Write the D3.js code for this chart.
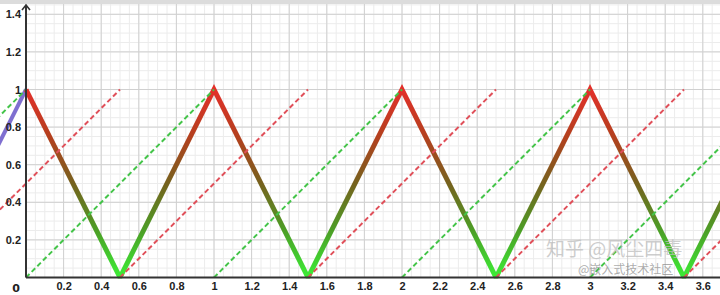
<!DOCTYPE html>
<html>
<head>
<meta charset="utf-8">
<script src="https://cdn.jsdelivr.net/npm/d3@7"></script>
<style>
  body { margin: 0; background: #fff; }
  svg { display: block; font-family: "DejaVu Sans", "Noto Sans", sans-serif; }
</style>
</head>
<body>
<div id="chart"></div>
<script>
// triangle wave corner points
const waveX = [0, 0.5, 1, 1.5, 2, 2.5, 3, 3.5, 4];
const waveY = [1, 0, 1, 0, 1, 0, 1, 0, 1];
// purple piece left of the y axis
const purpleX = [-0.5, 0];
const purpleY = [0, 1];
// dashed ramps: y = x - start, from (start,0) to (start+1,1)
const greenStarts = [-1, 0, 1, 2, 3];
const redStarts = [-0.5, 0.5, 1.5, 2.5, 3.5];
// tick labels
const xTicks = [0.2, 0.4, 0.6, 0.8, 1, 1.2, 1.4, 1.6, 1.8, 2, 2.2, 2.4, 2.6, 2.8, 3, 3.2, 3.4, 3.6];
const yTicks = [0.2, 0.4, 0.6, 0.8, 1, 1.2, 1.4];

const W = 720, H = 295;
const unit = 188;
const originX = 26, originY = 277.5;
const topY = 4;

const x = d3.scaleLinear()
  .domain([-originX / unit, (W - originX) / unit])
  .range([0, W]);
const y = d3.scaleLinear()
  .domain([(originY - H) / unit, (originY - topY) / unit])
  .range([H, topY]);

const svg = d3.select("#chart").append("svg")
  .attr("width", W).attr("height", H)
  .attr("viewBox", [0, 0, W, H]);

const defs = svg.append("defs");
defs.append("clipPath").attr("id", "plot")
  .append("rect").attr("x", 0).attr("y", topY)
  .attr("width", W).attr("height", originY - topY + 1);

const grad = defs.append("linearGradient").attr("id", "wave")
  .attr("gradientUnits", "userSpaceOnUse")
  .attr("x1", 0).attr("x2", 0)
  .attr("y1", y(1)).attr("y2", y(0));
grad.append("stop").attr("offset", 0).attr("stop-color", "#e2302a");
grad.append("stop").attr("offset", 0.25).attr("stop-color", "#b4401e");
grad.append("stop").attr("offset", 0.5).attr("stop-color", "#76621e");
grad.append("stop").attr("offset", 0.75).attr("stop-color", "#4c9e26");
grad.append("stop").attr("offset", 1).attr("stop-color", "#3cee36");

// top grey band
svg.append("rect").attr("x", 0).attr("y", 0).attr("width", W).attr("height", topY)
  .attr("fill", "#dcdcdc");

// grid (first quadrant)
const grid = svg.append("g");
const xMax = x.domain()[1], yMax = y.domain()[1];
const minorX = d3.range(0, xMax, 0.05), minorY = d3.range(0, yMax, 0.05);
const majorX = d3.range(0, xMax, 0.2), majorY = d3.range(0, yMax, 0.2);

grid.selectAll(".mx").data(minorX).join("line")
  .attr("x1", d => x(d)).attr("x2", d => x(d))
  .attr("y1", y(0)).attr("y2", topY)
  .attr("stroke", "#ececec").attr("stroke-width", 1);
grid.selectAll(".my").data(minorY).join("line")
  .attr("x1", x(0)).attr("x2", W)
  .attr("y1", d => y(d)).attr("y2", d => y(d))
  .attr("stroke", "#ececec").attr("stroke-width", 1);
grid.selectAll(".Mx").data(majorX).join("line")
  .attr("x1", d => x(d)).attr("x2", d => x(d))
  .attr("y1", y(0)).attr("y2", topY)
  .attr("stroke", "#d0d0d0").attr("stroke-width", 1);
grid.selectAll(".My").data(majorY).join("line")
  .attr("x1", x(0)).attr("x2", W)
  .attr("y1", d => y(d)).attr("y2", d => y(d))
  .attr("stroke", "#d0d0d0").attr("stroke-width", 1);

const plot = svg.append("g").attr("clip-path", "url(#plot)");
const line = d3.line().x(d => x(d[0])).y(d => y(d[1]));

// purple
plot.append("path")
  .attr("d", line(purpleX.map((v, i) => [v, purpleY[i]])))
  .attr("fill", "none").attr("stroke", "#7f6fd0").attr("stroke-width", 4);

// triangle wave
plot.append("path")
  .attr("d", line(waveX.map((v, i) => [v, waveY[i]])))
  .attr("fill", "none").attr("stroke", "url(#wave)")
  .attr("stroke-width", 5).attr("stroke-linejoin", "miter");

// dashed ramps
plot.selectAll(".green").data(greenStarts).join("line")
  .attr("x1", d => x(d)).attr("y1", y(0))
  .attr("x2", d => x(d + 1)).attr("y2", y(1))
  .attr("stroke", "#44c449").attr("stroke-width", 2)
  .attr("stroke-dasharray", "5,3");
plot.selectAll(".red").data(redStarts).join("line")
  .attr("x1", d => x(d)).attr("y1", y(0))
  .attr("x2", d => x(d + 1)).attr("y2", y(1))
  .attr("stroke", "#e0505a").attr("stroke-width", 2)
  .attr("stroke-dasharray", "5,3");

// axes lines
svg.append("line").attr("x1", x(0)).attr("x2", W)
  .attr("y1", y(0)).attr("y2", y(0))
  .attr("stroke", "#333").attr("stroke-width", 2);
svg.append("line").attr("x1", x(0)).attr("x2", x(0))
  .attr("y1", y(0)).attr("y2", topY + 1)
  .attr("stroke", "#333").attr("stroke-width", 2);
svg.append("path")
  .attr("d", `M${x(0) - 4},${topY + 6}L${x(0)},${topY + 1}L${x(0) + 4},${topY + 6}`)
  .attr("fill", "none").attr("stroke", "#333").attr("stroke-width", 1.6);

// tick labels
const fmt = d => String(+d.toFixed(1));
svg.append("g")
  .attr("transform", `translate(0,${y(0)})`)
  .call(d3.axisBottom(x).tickValues(xTicks).tickFormat(fmt).tickSize(0).tickPadding(5))
  .call(g => g.select(".domain").remove())
  .selectAll("text")
  .attr("fill", "#222").style("font-size", "11px").style("font-weight", "bold");

svg.append("g")
  .attr("transform", `translate(${x(0)},0)`)
  .call(d3.axisLeft(y).tickValues(yTicks).tickFormat(fmt).tickSize(0).tickPadding(5))
  .call(g => g.select(".domain").remove())
  .selectAll("text")
  .attr("fill", "#222").style("font-size", "11px").style("font-weight", "bold");

svg.append("text")
  .attr("x", x(0) - 6).attr("y", y(0) + 14)
  .attr("text-anchor", "end")
  .attr("fill", "#222").style("font-size", "11px").style("font-weight", "bold")
  .text("0");

// watermark
svg.append("text")
  .attr("x", 546).attr("y", 256)
  .attr("fill", "#bdbdbd").attr("fill-opacity", 0.75)
  .style("font-family", "'Noto Sans CJK SC', sans-serif").style("font-size", "19px")
  .text("知乎 @风尘四毒");
svg.append("text")
  .attr("x", 578).attr("y", 274)
  .attr("fill", "#888").attr("fill-opacity", 0.7)
  .style("font-family", "'Noto Sans CJK SC', sans-serif").style("font-size", "12px")
  .text("@嵌入式技术社区");
</script>
</body>
</html>
